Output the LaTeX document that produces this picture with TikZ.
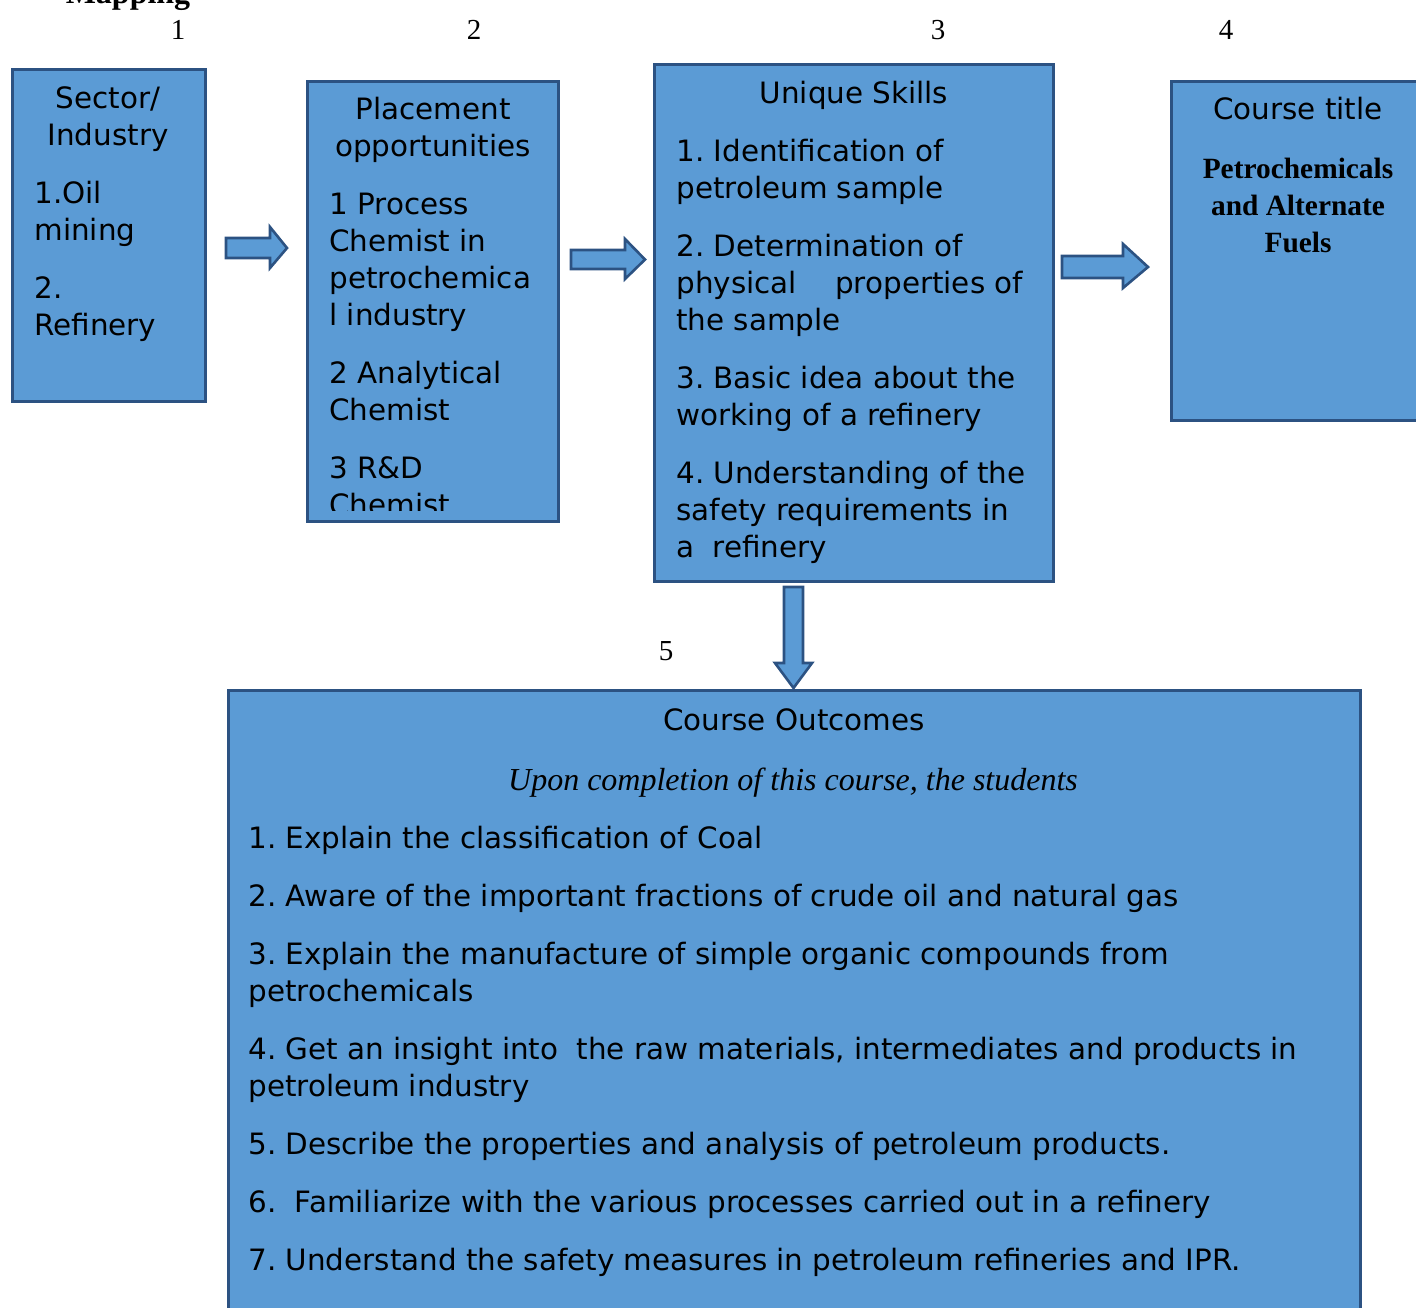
\documentclass[tikz,border=0pt]{standalone}
\usepackage{fontspec}
\setmainfont{Liberation Serif}
\newfontfamily\dejavu{DejaVu Sans}
\usetikzlibrary{fit}
\frenchspacing

\definecolor{boxblue}{HTML}{5B9BD5}
\definecolor{boxline}{RGB}{44,82,130}

\tikzset{
  box/.style={draw=boxline,fill=boxblue,line width=1.5pt,inner sep=0pt},
  blockarrow/.style={draw=boxline,fill=boxblue,line width=1.3pt,line join=miter},
  txt/.style={font=\dejavu\fontsize{14.7pt}{18.5pt}\selectfont,inner sep=0pt},
  serif/.style={font=\fontsize{14.5pt}{18.5pt}\selectfont,inner sep=0pt}
}

\begin{document}
\begin{tikzpicture}[x=0.5pt,y=-0.5pt]
            \useasboundingbox (0,0) rectangle (1416,1307);

            \node[serif,font=\bfseries\fontsize{16pt}{18.5pt}\selectfont,anchor=base] (map) at (128,3) {Mapping};
            \foreach \x/\y/\n in {178/39/1,474/39/2,938/39/3,1226/39/4,666/660/5} {
            \node[serif,anchor=base] (n\n) at (\x,\y) {\n};}

            % the boxes
            \node[box,fit={(12,69) (205,401)}] (sector) {};
            \node[box,fit={(307,81) (558,521)}] (placement) {};
            \node[box,fit={(654,64) (1053,581)}] (skills) {};
            \node[box,fit={(1171,81) (1440,420)}] (title) {};
            \node[box,fit={(228,690) (1360,1330)}] (outcomes) {};

            % block arrows between them
            \draw[blockarrow] (226,238) -- (270,238) -- (270,227) -- (287,248) -- (270,268) -- (270,258) -- (226,258) -- cycle;
            \draw[blockarrow] (571,250) -- (625,250) -- (625,239) -- (645,259.5) -- (625,279) -- (625,269) -- (571,269) -- cycle;
            \draw[blockarrow] (1062,256) -- (1123,256) -- (1123,244) -- (1148,267) -- (1123,288) -- (1123,278) -- (1062,278) -- cycle;
            \draw[blockarrow] (784,587) -- (803,587) -- (803,663) -- (812,663) -- (793.5,688) -- (775,663) -- (784,663) -- cycle;

            % box 1
            \node[txt,anchor=north,align=center] (sectorhead) at (108,82) {\strut Sector/\\Industry};
            \node[txt,anchor=north west,align=left] (sectortxt) at (34,177) {\strut 1.Oil\\mining\\[10.5pt]2.\\Refinery};

            % box 2
            \node[txt,anchor=north,align=center] (placementhead) at (433,93) {\strut Placement\\opportunities};
            \begin{scope}
            \clip (307,81) rectangle (558,510);
            \node[txt,anchor=north west,align=left] (placementtxt) at (329,188) {\strut 1 Process\\Chemist in\\petrochemica\\l industry\\[10.5pt]2 Analytical\\Chemist\\[10.5pt]3 R\&D\\Chemist};
            \end{scope}

            % box 3
            \node[txt,anchor=north,align=center] (skillshead) at (854,77) {\strut Unique Skills};
            \node[txt,anchor=north west,align=left] (skillstxt) at (676,135) {\strut 1. Identification of\\petroleum sample\\[10.5pt]2. Determination of\\physical\hspace{14.5pt} properties of\\the sample\\[10.5pt]3. Basic idea about the\\working of a refinery\\[10.5pt]4. Understanding of the\\safety requirements in\\a\hspace{4.5pt} refinery};

            % box 4
            \node[txt,anchor=north,align=center] (titlehead) at (1298,93) {\strut Course title};
            \node[serif,font=\bfseries\fontsize{14.7pt}{18.5pt}\selectfont,anchor=north,align=center] (titletxt) at (1298,152) {\strut Petrochemicals\\and Alternate\\Fuels};

            % box 5
            \node[txt,anchor=north,align=center] (outcomeshead) at (794,704) {\strut Course Outcomes};
            \node[serif,font=\itshape\fontsize{16pt}{18.5pt}\selectfont,anchor=north] (outcomesintro) at (793,764) {\strut Upon completion of this course, the students};
            \node[txt,anchor=north west,align=left] (outcomestxt) at (248,822) {\strut 1. Explain the classification of Coal\\[10.5pt]2. Aware of the important fractions of crude oil and natural gas\\[10.5pt]3. Explain the manufacture of simple organic compounds from\\petrochemicals\\[10.5pt]4. Get an insight into\hspace{4.5pt} the raw materials, intermediates and products in\\petroleum industry\\[10.5pt]5. Describe the properties and analysis of petroleum products.\\[10.5pt]6.\hspace{4.5pt} Familiarize with the various processes carried out in a refinery\\[10.5pt]7. Understand the safety measures in petroleum refineries and IPR.};
        \end{tikzpicture}
\end{document}
